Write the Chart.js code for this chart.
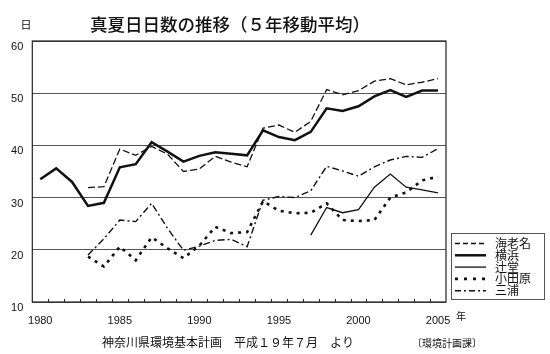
<!DOCTYPE html>
<html>
<head>
<meta charset="utf-8">
<script src="https://cdn.jsdelivr.net/npm/chart.js@4/dist/chart.umd.min.js"></script>
<style>
  body { margin: 0; background: #fff; }
</style>
</head>
<body>
<canvas id="chart" width="550" height="354"></canvas>
<script>
// Years on the x axis, and the ones that get a label
const years = [1980, 1981, 1982, 1983, 1984, 1985, 1986, 1987, 1988, 1989, 1990, 1991, 1992,
  1993, 1994, 1995, 1996, 1997, 1998, 1999, 2000, 2001, 2002, 2003, 2004, 2005];
const labelYears = [1980, 1985, 1990, 1995, 2000, 2005];
const yTicks = [10, 20, 30, 40, 50, 60];

// 5-year moving average of days >= 30C
const ebina = [null, null, null, 31.9, 32.1, 39.3, 38.1, 39.8, 38.3, 35.0, 35.5, 37.9, 36.8,
  35.9, 43.3, 43.9, 42.5, 44.6, 50.7, 49.7, 50.5, 52.3, 52.8, 51.6, 52.1, 52.8];
const yokohama = [33.5, 35.6, 33.0, 28.4, 29.0, 35.8, 36.4, 40.6, 38.8, 36.9, 38.0, 38.7, 38.4,
  38.1, 42.9, 41.6, 41.0, 42.6, 47.1, 46.6, 47.5, 49.4, 50.6, 49.3, 50.5, 50.5];
const tsujido = [null, null, null, null, null, null, null, null, null, null, null, null, null,
  null, null, null, null, 22.8, 28.1, 27.1, 27.7, 32.0, 34.5, 32.0, 31.5, 30.9];
const odawara = [null, null, null, 18.7, 16.8, 20.6, 18.0, 22.4, 20.3, 18.4, 20.8, 24.4, 23.2,
  23.4, 29.3, 27.5, 27.0, 27.1, 28.9, 25.7, 25.5, 25.7, 30.0, 31.0, 33.3, 34.0];
const miura = [null, null, null, 19.0, 22.1, 25.7, 25.4, 28.9, 24.1, 19.9, 20.7, 21.8, 22.0,
  20.6, 29.5, 30.2, 30.0, 31.3, 36.0, 35.1, 34.1, 35.9, 37.2, 37.9, 37.7, 39.4];

const ink = '#111';
const jpFont = '"Noto Sans CJK JP", sans-serif';

function line(label, data, width, dash, legendDash) {
  return {
    label: label,
    data: data,
    borderColor: ink,
    borderWidth: width,
    borderDash: dash,
    legendDash: legendDash,
    pointRadius: 0,
    fill: false,
    tension: 0,
    spanGaps: false
  };
}

// frame, small year ticks, legend box and the loose texts
const decorations = {
  id: 'decorations',
  beforeDatasetsDraw(chart) {
    const ctx = chart.ctx;
    const a = chart.chartArea;
    const xs = chart.scales.x;
    ctx.save();
    ctx.strokeStyle = '#222';
    ctx.lineWidth = 1.2;
    ctx.strokeRect(a.left, a.top, a.right - a.left, a.bottom - a.top);
    ctx.lineWidth = 1;
    ctx.beginPath();
    for (let i = 0; i < years.length - 1; i++) {
      const x = Math.round((xs.getPixelForTick(i) + xs.getPixelForTick(i + 1)) / 2) + 0.5;
      ctx.moveTo(x, a.bottom);
      ctx.lineTo(x, a.bottom - 3);
    }
    ctx.stroke();
    ctx.restore();
  },
  afterDraw(chart) {
    const ctx = chart.ctx;
    ctx.save();
    ctx.fillStyle = ink;

    // title and units
    ctx.textBaseline = 'middle';
    ctx.textAlign = 'center';
    ctx.font = '500 17.5px ' + jpFont;
    ctx.fillText('真夏日日数の推移（５年移動平均）', 230, 24);
    ctx.font = '11px ' + jpFont;
    ctx.fillText('日', 26, 25);
    ctx.font = '10px ' + jpFont;
    ctx.fillText('年', 461, 316);

    // source lines
    ctx.font = '12px ' + jpFont;
    ctx.fillText('神奈川県環境基本計画　平成１９年７月　より', 228, 342);
    ctx.font = '10px ' + jpFont;
    ctx.fillText('〔環境計画課〕', 447, 343);

    // legend
    ctx.strokeStyle = '#555';
    ctx.lineWidth = 1;
    ctx.strokeRect(451.5, 233.5, 93, 66);
    ctx.font = '12px ' + jpFont;
    ctx.textAlign = 'left';
    chart.data.datasets.forEach((ds, i) => {
      const y = 243.5 + i * 11.8;
      ctx.save();
      ctx.strokeStyle = ds.borderColor;
      ctx.lineWidth = ds.borderWidth;
      ctx.setLineDash(ds.legendDash || []);
      ctx.beginPath();
      ctx.moveTo(455, y);
      ctx.lineTo(486, y);
      ctx.stroke();
      ctx.restore();
      ctx.fillText(ds.label, 495, y);
    });
    ctx.restore();
  }
};

new Chart(document.getElementById('chart'), {
  type: 'line',
  data: {
    labels: years,
    datasets: [
      line('海老名', ebina, 1.3, [7, 3], [5, 3]),
      line('横浜', yokohama, 2.5, [], []),
      line('辻堂', tsujido, 1.3, [], []),
      line('小田原', odawara, 2.6, [3, 5], [3, 6]),
      line('三浦', miura, 1.4, [7, 3, 2, 3], [6, 3, 2, 3])
    ]
  },
  options: {
    responsive: false,
    animation: false,
    devicePixelRatio: 1,
    layout: { padding: { left: 0, top: 41, right: 104, bottom: 28 } },
    plugins: {
      legend: { display: false },
      title: { display: false },
      tooltip: { enabled: false }
    },
    scales: {
      x: {
        type: 'category',
        offset: true,
        grid: { display: false },
        border: { display: false },
        afterFit: (scale) => { scale.height = 24; },
        ticks: {
          autoSkip: false,
          maxRotation: 0,
          padding: 4,
          color: ink,
          font: { family: '"Liberation Sans", Arial, sans-serif', size: 11 },
          callback: (v, i) => labelYears.includes(years[i]) ? years[i] : ''
        }
      },
      y: {
        min: yTicks[0],
        max: yTicks[yTicks.length - 1],
        afterFit: (scale) => { scale.width = 32.3; },
        afterBuildTicks: (scale) => { scale.ticks = yTicks.map(v => ({ value: v })); },
        grid: { color: '#555', lineWidth: 1, drawTicks: false },
        border: { display: false },
        ticks: {
          padding: 9,
          labelOffset: 6,
          color: ink,
          font: { family: '"Liberation Sans", Arial, sans-serif', size: 11 }
        }
      }
    }
  },
  plugins: [decorations]
});
</script>
</body>
</html>
